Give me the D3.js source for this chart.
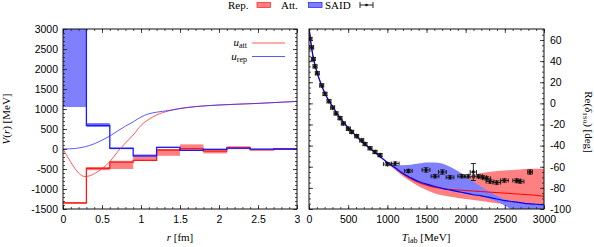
<!DOCTYPE html>
<html>
<head>
<meta charset="utf-8">
<script src="https://cdn.jsdelivr.net/npm/d3@7"></script>
<style>
  body { margin: 0; background: #fff; }
  svg { display: block; font-family: "Liberation Serif", "DejaVu Serif", serif; }
  .tick text { font-size: 10.5px; fill: #000; }
  .tick line { stroke: #222; stroke-width: 0.8; }
  .lab { font-size: 11px; fill: #000; }
</style>
</head>
<body>
<script>
// left panel: step potentials on r bins [fm] and smooth u(r)
var binEdges = [0, 0.3, 0.6, 0.9, 1.2, 1.5, 1.8, 2.1, 2.4, 2.7, 3.0];
var repVal = [4000, 590, 15, -170, 40, -35, -10, 20, -5, 0];
var repLo  = [1050, 550, -5, -200, 25, -50, -25, 5, -15, -5];
var repHi  = [6000, 650, 40, -140, 55, -20, 5, 35, 5, 5];
var attVal = [-1345, -485, -330, -285, -25, 10, -55, 30, -20, 0];
var attLo  = [-1375, -530, -500, -300, -170, -45, -110, -5, -30, -5];
var attHi  = [-1325, -450, -295, -140, -5, 115, -10, 70, -10, 5];

var uR   = [0, 0.1, 0.2, 0.28, 0.4, 0.5, 0.6, 0.7, 0.8, 0.9, 1.0, 1.1, 1.2, 1.35, 1.5, 1.7, 2.0, 2.5, 3.0];
var uAtt = [0, -330, -600, -690, -620, -490, -317, -70, 150, 350, 590, 740, 850, 950, 1015, 1060, 1100, 1140, 1190];
var uRep = [0, 5, 25, 55, 130, 220, 325, 450, 570, 680, 800, 880, 920, 960, 1010, 1060, 1100, 1140, 1190];

// right panel: phase shift vs T_lab [MeV]
var lowT  = [0, 25, 50, 100, 150, 200, 300, 400, 500, 600, 700, 800, 900];
var lowD  = [72, 57, 45, 30, 19, 10, -3, -14, -23, -31, -38, -44, -50];
var bandT = [1000, 1100, 1200, 1300, 1400, 1500, 1600, 1700, 1800, 1900, 2000, 2100, 2200, 2300, 2400, 2500, 2600, 2700, 2800, 2900, 3000];
var repLine = [-56, -61, -66.5, -70.5, -74, -76.5, -78.5, -80.5, -82, -83.5, -85, -86.5, -87.5, -89, -90.5, -92, -93, -94, -95, -95.5, -96];
var repUp   = [-56, -58, -58.5, -58, -57, -56, -56, -57, -60, -64, -69, -74, -79, -83.5, -87.5, -91, -93, -94, -95, -95.5, -96];
var repDn   = [-56.5, -62, -67, -71, -74.5, -77, -79, -81, -82.5, -84, -85.5, -87, -88, -90, -93, -97, -101, -103, -105, -106, -107];
var attLine = [-56, -61, -67, -71.5, -75, -77.5, -79.5, -80.5, -81.5, -82, -82.5, -83, -83.5, -84, -84.5, -85, -85.5, -86, -86.5, -87, -88];
var attUp   = [-56, -58, -61, -64, -66, -68, -70, -71, -72, -72, -71.5, -68, -66, -65, -64, -63.5, -63, -62.5, -62, -62, -62];
var attDn   = [-57, -63, -69, -74, -78.5, -82, -85, -87, -88.5, -89.5, -90.5, -91.5, -92.5, -93.5, -94.5, -95.5, -97, -98, -99, -100, -101];

var saidT  = [13, 34, 55, 77, 106, 162, 204, 255, 302, 345, 396, 438, 502, 545, 609, 673, 715, 779, 843, 907, 1000, 1100, 1268, 1494, 1609, 1703, 1800, 1950, 2035, 2098, 2162, 2218, 2269, 2311, 2397, 2494, 2652, 2694, 2822];
var saidD  = [61, 53, 42, 35, 28.5, 17, 9, 2, -4, -9.5, -14, -19, -24, -27, -31, -35, -38.5, -42.5, -46, -49, -57.5, -57, -64, -63, -69, -65, -70, -69, -69, -65, -69, -70, -71, -74, -75, -73, -73, -74, -65];
var saidDT = [25, 25, 25, 25, 25, 25, 25, 25, 25, 25, 25, 25, 25, 25, 25, 25, 25, 25, 25, 25, 50, 50, 50, 50, 50, 50, 50, 50, 50, 40, 50, 50, 50, 50, 50, 50, 50, 50, 30];
var saidDD = [1.5, 1.5, 1.5, 1.5, 1.5, 1.5, 1.5, 1.5, 1.5, 1.5, 1.5, 1.5, 1.5, 1.5, 1.5, 1.5, 1.5, 1.5, 1.5, 1.5, 1.5, 1.5, 1.5, 2, 1.5, 2, 1.5, 1.5, 1.5, 8, 1.5, 1.5, 1.5, 1.5, 1.5, 1.5, 1.5, 1.5, 2];

var rTicks = [0, 0.5, 1, 1.5, 2, 2.5, 3];
var vTicks = [-1500, -1000, -500, 0, 500, 1000, 1500, 2000, 2500, 3000];
var tTicks = [0, 500, 1000, 1500, 2000, 2500, 3000];
var dTicks = [-100, -80, -60, -40, -20, 0, 20, 40, 60];

var redBand = "#ff8080", blueBand = "#8080ff";

var svg = d3.select("body").append("svg")
  .attr("width", 594)
  .attr("height", 247);

var xL = d3.scaleLinear().domain([0, 3]).range([63, 297]);
var yL = d3.scaleLinear().domain([-1500, 3000]).range([209, 29]);
var xR = d3.scaleLinear().domain([0, 3000]).range([309, 544]);
var yR = d3.scaleLinear().domain([-100, 70.4]).range([209, 29]);

var defs = svg.append("defs");
defs.append("clipPath").attr("id", "clipL").append("rect")
  .attr("x", 63).attr("y", 29).attr("width", 234).attr("height", 180);
defs.append("clipPath").attr("id", "clipR").append("rect")
  .attr("x", 309).attr("y", 29).attr("width", 235).attr("height", 180);

// ---------- left panel ----------
var gL = svg.append("g").attr("clip-path", "url(#clipL)");
var bins = d3.range(binEdges.length - 1);

gL.selectAll("rect.att").data(bins).enter().append("rect")
  .attr("x", function(i) { return xL(binEdges[i]); })
  .attr("width", function(i) { return xL(binEdges[i + 1]) - xL(binEdges[i]); })
  .attr("y", function(i) { return yL(attHi[i]); })
  .attr("height", function(i) { return yL(attLo[i]) - yL(attHi[i]); })
  .attr("fill", redBand);

gL.selectAll("rect.rep").data(bins).enter().append("rect")
  .attr("x", function(i) { return xL(binEdges[i]); })
  .attr("width", function(i) { return xL(binEdges[i + 1]) - xL(binEdges[i]); })
  .attr("y", function(i) { return yL(repHi[i]); })
  .attr("height", function(i) { return yL(repLo[i]) - yL(repHi[i]); })
  .attr("fill", blueBand);

var step = d3.line()
  .x(function(d) { return xL(d[0]); })
  .y(function(d) { return yL(d[1]); })
  .curve(d3.curveStepAfter);

function stepPts(vals) {
  var p = vals.map(function(v, i) { return [binEdges[i], v]; });
  p.push([binEdges[binEdges.length - 1], vals[vals.length - 1]]);
  return p;
}

gL.append("path").attr("d", step(stepPts(attVal)))
  .attr("fill", "none").attr("stroke", "#ff1a1a").attr("stroke-width", 1.3);
gL.append("path").attr("d", step(stepPts(repVal)))
  .attr("fill", "none").attr("stroke", "#1a1aff").attr("stroke-width", 1.3);

var smooth = d3.line()
  .x(function(d) { return xL(d[0]); })
  .y(function(d) { return yL(d[1]); })
  .curve(d3.curveMonotoneX);

gL.append("path").attr("d", smooth(d3.zip(uR, uAtt)))
  .attr("fill", "none").attr("stroke", "#ff3030").attr("stroke-width", 0.8);
gL.append("path").attr("d", smooth(d3.zip(uR, uRep)))
  .attr("fill", "none").attr("stroke", "#3030ff").attr("stroke-width", 0.8);

// legend inside left panel
var legL = svg.append("g");
[["att", "#ff3030", 43], ["rep", "#3030ff", 56.5]].forEach(function(e) {
  var t = legL.append("text").attr("class", "lab")
    .attr("x", 247).attr("y", e[2] + 3).attr("text-anchor", "end");
  t.append("tspan").attr("font-style", "italic").text("u");
  t.append("tspan").attr("font-size", "8px").attr("dy", 2).text(e[0]);
  legL.append("line").attr("x1", 252).attr("x2", 285)
    .attr("y1", e[2]).attr("y2", e[2])
    .attr("stroke", e[1]).attr("stroke-width", 0.8);
});

// ---------- right panel ----------
var gR = svg.append("g").attr("clip-path", "url(#clipR)");

var area = d3.area()
  .x(function(d) { return xR(d[0]); })
  .y0(function(d) { return yR(d[1]); })
  .y1(function(d) { return yR(d[2]); })
  .curve(d3.curveMonotoneX);

gR.append("path").attr("d", area(d3.zip(bandT, attDn, attUp))).attr("fill", redBand);
gR.append("path").attr("d", area(d3.zip(bandT, repDn, repUp))).attr("fill", blueBand);

var lineR = d3.line()
  .x(function(d) { return xR(d[0]); })
  .y(function(d) { return yR(d[1]); })
  .curve(d3.curveMonotoneX);

gR.append("path").attr("d", lineR(d3.zip(lowT.concat(bandT), lowD.concat(attLine))))
  .attr("fill", "none").attr("stroke", "#ff0000").attr("stroke-width", 1);
gR.append("path").attr("d", lineR(d3.zip(lowT.concat(bandT), lowD.concat(repLine))))
  .attr("fill", "none").attr("stroke", "#0000ff").attr("stroke-width", 1.2);

var said = d3.range(saidT.length).map(function(i) {
  return { t: saidT[i], d: saidD[i], dt: saidDT[i], dd: saidDD[i] };
});
var pts = gR.selectAll("g.said").data(said).enter().append("g")
  .attr("stroke", "#111").attr("stroke-width", 0.9);
pts.append("line")
  .attr("x1", function(p) { return xR(p.t - p.dt); })
  .attr("x2", function(p) { return xR(p.t + p.dt); })
  .attr("y1", function(p) { return yR(p.d); })
  .attr("y2", function(p) { return yR(p.d); });
pts.append("line")
  .attr("x1", function(p) { return xR(p.t - p.dt); })
  .attr("x2", function(p) { return xR(p.t - p.dt); })
  .attr("y1", function(p) { return yR(p.d) - 2; })
  .attr("y2", function(p) { return yR(p.d) + 2; });
pts.append("line")
  .attr("x1", function(p) { return xR(p.t + p.dt); })
  .attr("x2", function(p) { return xR(p.t + p.dt); })
  .attr("y1", function(p) { return yR(p.d) - 2; })
  .attr("y2", function(p) { return yR(p.d) + 2; });
pts.append("line")
  .attr("x1", function(p) { return xR(p.t); })
  .attr("x2", function(p) { return xR(p.t); })
  .attr("y1", function(p) { return yR(p.d + p.dd); })
  .attr("y2", function(p) { return yR(p.d - p.dd); });
pts.append("line")
  .attr("x1", function(p) { return xR(p.t) - 2.5; })
  .attr("x2", function(p) { return xR(p.t) + 2.5; })
  .attr("y1", function(p) { return yR(p.d + p.dd); })
  .attr("y2", function(p) { return yR(p.d + p.dd); });
pts.append("line")
  .attr("x1", function(p) { return xR(p.t) - 2.5; })
  .attr("x2", function(p) { return xR(p.t) + 2.5; })
  .attr("y1", function(p) { return yR(p.d - p.dd); })
  .attr("y2", function(p) { return yR(p.d - p.dd); });
pts.append("path")
  .attr("d", d3.symbol().type(d3.symbolDiamond).size(9))
  .attr("transform", function(p) { return "translate(" + xR(p.t) + "," + yR(p.d) + ")"; })
  .attr("fill", "#111").attr("stroke", "none");

// ---------- axes ----------
function fmt(d) { return String(d); }

function frame(x, y, xMajor, xMinor, yMajor, yMinor, yLabelsRight) {
  var x0 = x.range()[0], x1 = x.range()[1], y0 = y.range()[1], y1 = y.range()[0];
  var g = svg.append("g");
  var parts = [
    [d3.axisBottom(x).tickValues(xMinor).tickSize(-2).tickFormat(""), "translate(0," + y1 + ")"],
    [d3.axisBottom(x).tickValues(xMajor).tickSize(-4).tickPadding(7).tickFormat(fmt), "translate(0," + y1 + ")"],
    [d3.axisTop(x).tickValues(xMinor).tickSize(-2).tickFormat(""), "translate(0," + y0 + ")"],
    [d3.axisTop(x).tickValues(xMajor).tickSize(-4).tickFormat(""), "translate(0," + y0 + ")"],
    [d3.axisLeft(y).tickValues(yMinor).tickSize(-2).tickFormat(""), "translate(" + x0 + ",0)"],
    [d3.axisLeft(y).tickValues(yMajor).tickSize(-4).tickPadding(5).tickFormat(yLabelsRight ? "" : fmt), "translate(" + x0 + ",0)"],
    [d3.axisRight(y).tickValues(yMinor).tickSize(-2).tickFormat(""), "translate(" + x1 + ",0)"],
    [d3.axisRight(y).tickValues(yMajor).tickSize(-4).tickPadding(6).tickFormat(yLabelsRight ? fmt : ""), "translate(" + x1 + ",0)"]
  ];
  parts.forEach(function(p) {
    var a = g.append("g").attr("transform", p[1]).call(p[0]);
    a.select(".domain").remove();
    a.selectAll("text").attr("font-family", null).attr("font-size", null);
  });
  g.append("rect").attr("x", x0).attr("y", y0)
    .attr("width", x1 - x0).attr("height", y1 - y0)
    .attr("fill", "none").attr("stroke", "#111").attr("stroke-width", 1);
}

frame(xL, yL, rTicks, d3.range(0, 3.01, 0.1), vTicks, d3.range(-1500, 3001, 100), false);
frame(xR, yR, tTicks, d3.range(0, 3001, 100), dTicks, d3.range(-100, 71, 5), true);

// axis titles
var rl = svg.append("text").attr("class", "lab").attr("x", 180).attr("y", 241).attr("text-anchor", "middle");
rl.append("tspan").attr("font-style", "italic").text("r");
rl.append("tspan").text(" [fm]");

var tl = svg.append("text").attr("class", "lab").attr("x", 426).attr("y", 241).attr("text-anchor", "middle");
tl.append("tspan").attr("font-style", "italic").text("T");
tl.append("tspan").attr("font-size", "8px").attr("dy", 2).text("lab");
tl.append("tspan").attr("dy", -2).text(" [MeV]");

var vl = svg.append("text").attr("class", "lab").attr("text-anchor", "middle")
  .attr("transform", "translate(10,119) rotate(-90)");
vl.append("tspan").attr("font-style", "italic").text("V");
vl.append("tspan").text("(");
vl.append("tspan").attr("font-style", "italic").text("r");
vl.append("tspan").text(") [MeV]");

var dl = svg.append("text").attr("class", "lab").attr("text-anchor", "middle")
  .attr("transform", "translate(585,122) rotate(90)");
dl.append("tspan").text("Re(");
dl.append("tspan").attr("font-style", "italic").text("δ");
dl.append("tspan").attr("font-size", "7px").attr("dy", 2).text("1S0");
dl.append("tspan").attr("dy", -2).text(") [deg]");

// top legend
var leg = svg.append("g");
leg.append("text").attr("class", "lab").attr("x", 228).attr("y", 9).text("Rep.");
leg.append("rect").attr("x", 257).attr("y", 2.5).attr("width", 13.5).attr("height", 5)
  .attr("fill", redBand).attr("stroke", "#ff3030").attr("stroke-width", 0.8);
leg.append("text").attr("class", "lab").attr("x", 281).attr("y", 9).text("Att.");
leg.append("rect").attr("x", 308.5).attr("y", 2.5).attr("width", 13.5).attr("height", 5)
  .attr("fill", blueBand).attr("stroke", "#3030ff").attr("stroke-width", 0.8);
leg.append("text").attr("class", "lab").attr("x", 325).attr("y", 9).text("SAID");
var eb = leg.append("g").attr("stroke", "#111").attr("stroke-width", 0.9);
eb.append("line").attr("x1", 360).attr("x2", 373).attr("y1", 5).attr("y2", 5);
eb.append("line").attr("x1", 360).attr("x2", 360).attr("y1", 2).attr("y2", 8);
eb.append("line").attr("x1", 373).attr("x2", 373).attr("y1", 2).attr("y2", 8);
leg.append("circle").attr("cx", 366.5).attr("cy", 5).attr("r", 1.3).attr("fill", "#111");
</script>
</body>
</html>
